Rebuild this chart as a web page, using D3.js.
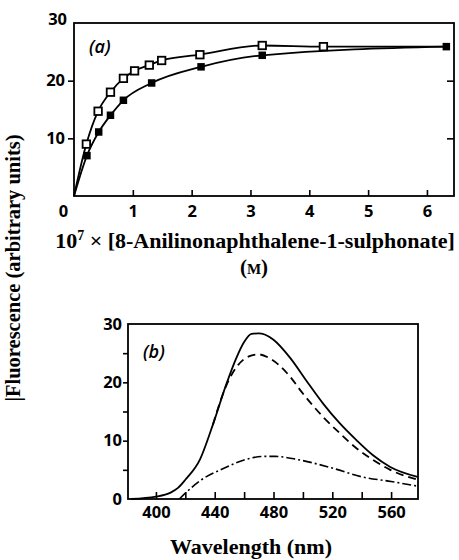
<!DOCTYPE html>
<html>
<head>
<meta charset="utf-8">
<script src="https://cdn.jsdelivr.net/npm/d3@7"></script>
<style>
  body { margin: 0; background: #fff; }
  .tick text { font-family: "Open Sans", sans-serif; font-weight: 700; font-size: 16.5px; fill: #000; }
  .title { font-family: "Liberation Serif", serif; font-weight: 700; fill: #000; }
  .panel { font-family: "Open Sans", sans-serif; font-style: italic; font-weight: 600; font-size: 18px; fill: #000; }
</style>
</head>
<body>
<svg id="fig" width="459" height="560"></svg>
<script>
// panel (a): fluorescence vs ANS concentration
const openX = [0.21, 0.41, 0.62, 0.84, 1.03, 1.28, 1.49, 2.14, 3.2, 4.24];
const openY = [9.0, 14.7, 18.0, 20.4, 21.7, 22.7, 23.5, 24.5, 26.1, 25.9];
const filledX = [0.22, 0.42, 0.62, 0.84, 1.32, 2.16, 3.2, 6.33];
const filledY = [7.0, 11.1, 14.0, 16.6, 19.6, 22.4, 24.4, 25.9];
const xTicksA = [1, 2, 3, 4, 5, 6];
const yTicksA = [10, 20, 30];

// panel (b): emission spectra
const solidNm = [383, 400, 410, 415, 420, 430, 438.7, 447.8, 454.6, 460, 465, 470, 474, 480, 491.6, 502, 513.6, 525, 536.4, 547.7, 559.4, 578];
const solidF  = [0, 0.4, 1.1, 1.9, 3.3, 6.8, 12.7, 19.6, 24.1, 26.9, 28.3, 28.4, 28.2, 27.3, 24.1, 20.4, 16.4, 13, 10.1, 7.5, 5.5, 3.8];
const dashNm = [438.7, 447.8, 456, 462.8, 469.6, 477.5, 491.2, 499, 513.6, 525, 536.4, 547.7, 559.4, 578];
const dashF  = [12.7, 19.4, 23, 24.4, 24.8, 24.1, 21, 18.4, 14.1, 11.3, 8.7, 6.7, 5, 3.3];
const dotNm = [416, 420, 431, 446.6, 460, 474, 481, 495.5, 520, 540, 560, 578];
const dotF  = [0, 1, 3.3, 5.3, 6.7, 7.3, 7.3, 6.8, 5.3, 3.8, 3.0, 2.2];
const xTicksB = [400, 420, 440, 460, 480, 500, 520, 540, 560];
const xLabelsB = [400, 440, 480, 520, 560];
const yTicksB = [0, 5, 10, 15, 20, 25, 30];

const svg = d3.select("#fig");

function styleAxis(g) {
  g.select(".domain").remove();
  g.selectAll(".tick line").attr("stroke", "#000").attr("stroke-width", 1.6);
}

// ---------- panel (a) ----------
const xa = d3.scaleLinear().domain([0, 6.46]).range([74, 454]);
const ya = d3.scaleLinear().domain([0, 30]).range([196, 23]);

svg.append("rect")
  .attr("x", xa(0)).attr("y", ya(30))
  .attr("width", xa(6.46) - xa(0)).attr("height", ya(0) - ya(30))
  .attr("fill", "none").attr("stroke", "#000").attr("stroke-width", 1.8);

svg.append("g")
  .attr("transform", `translate(0,${ya(0)})`)
  .call(d3.axisTop(xa).tickValues(xTicksA).tickSize(6).tickFormat(""))
  .call(styleAxis);
svg.append("g")
  .attr("transform", `translate(0,${ya(0)})`)
  .call(d3.axisBottom(xa).tickValues([0].concat(xTicksA)).tickSize(0).tickPadding(9)
    .tickFormat(d3.format("d")))
  .call(g => g.select(".domain").remove())
  .call(g => g.selectAll(".tick").filter(d => d === 0).select("text").attr("dx", -11));

svg.append("g")
  .attr("transform", `translate(${xa(0)},0)`)
  .call(d3.axisLeft(ya).tickValues([10, 20]).tickSize(6).tickPadding(3))
  .call(styleAxis);
svg.append("g")
  .attr("transform", `translate(${xa(0)},0)`)
  .call(d3.axisLeft(ya).tickValues([30]).tickSize(0).tickPadding(7))
  .call(styleAxis)
  .call(g => g.selectAll("text").attr("dy", "0.1em"));
svg.append("g")
  .attr("transform", `translate(${xa(6.46)},0)`)
  .call(d3.axisLeft(ya).tickValues([10, 20]).tickSize(7).tickFormat(""))
  .call(styleAxis);

const lineA = d3.line().x(d => xa(d[0])).y(d => ya(d[1])).curve(d3.curveMonotoneX);
const openPts = [[0, 0]].concat(openX.map((x, i) => [x, openY[i]]));
const filledPts = [[0, 0]].concat(filledX.map((x, i) => [x, filledY[i]]));
svg.append("path")
  .attr("d", lineA(openPts.concat([[filledX[filledX.length - 1], filledY[filledY.length - 1]]])))
  .attr("fill", "none").attr("stroke", "#000").attr("stroke-width", 1.8);
svg.append("path")
  .attr("d", lineA(filledPts))
  .attr("fill", "none").attr("stroke", "#000").attr("stroke-width", 1.8);

const sq = 7.5;
svg.append("g").selectAll("rect")
  .data(filledX.map((x, i) => [x, filledY[i]]))
  .join("rect")
  .attr("x", d => xa(d[0]) - sq / 2).attr("y", d => ya(d[1]) - sq / 2)
  .attr("width", sq).attr("height", sq)
  .attr("fill", "#000");
svg.append("g").selectAll("rect")
  .data(openX.map((x, i) => [x, openY[i]]))
  .join("rect")
  .attr("x", d => xa(d[0]) - sq / 2).attr("y", d => ya(d[1]) - sq / 2)
  .attr("width", sq).attr("height", sq)
  .attr("fill", "#fff").attr("stroke", "#000").attr("stroke-width", 1.8);

svg.append("text").attr("class", "panel").attr("x", 89).attr("y", 53).text("(a)");

svg.append("text").attr("class", "title")
  .attr("x", 255).attr("y", 248).attr("text-anchor", "middle").style("font-size", "22px")
  .html('10<tspan dy="-8" font-size="14">7</tspan><tspan dy="8"> × [8-Anilinonaphthalene-1-sulphonate]</tspan>');
svg.append("text").attr("class", "title")
  .attr("x", 254).attr("y", 274).attr("text-anchor", "middle").style("font-size", "21px")
  .html('(<tspan font-size="15">M</tspan>)');

// ---------- panel (b) ----------
const xb = d3.scaleLinear().domain([381, 578.3]).range([128, 418]);
const yb = d3.scaleLinear().domain([0, 30]).range([499, 324]);

svg.append("rect")
  .attr("x", xb(381)).attr("y", yb(30))
  .attr("width", xb(578.3) - xb(381)).attr("height", yb(0) - yb(30))
  .attr("fill", "none").attr("stroke", "#000").attr("stroke-width", 1.8);

svg.append("g")
  .attr("transform", `translate(0,${yb(0)})`)
  .call(d3.axisTop(xb).tickValues(xTicksB).tickSize(7).tickFormat(""))
  .call(styleAxis);
svg.append("g")
  .attr("transform", `translate(0,${yb(0)})`)
  .call(d3.axisBottom(xb).tickValues(xLabelsB).tickSize(0).tickPadding(7))
  .call(g => g.select(".domain").remove());

svg.append("g")
  .attr("transform", `translate(${xb(381)},0)`)
  .call(d3.axisLeft(yb).tickValues(yTicksB.filter(d => d > 0 && d < 30)).tickSize(5).tickFormat(""))
  .call(styleAxis);
svg.append("g")
  .attr("transform", `translate(${xb(381)},0)`)
  .call(d3.axisLeft(yb).tickValues(yTicksB.filter(d => d % 10 === 0)).tickSize(0).tickPadding(6))
  .call(styleAxis);

const lineB = d3.line().x(d => xb(d[0])).y(d => yb(d[1])).curve(d3.curveMonotoneX);
svg.append("path")
  .attr("d", lineB(solidNm.map((x, i) => [x, solidF[i]])))
  .attr("fill", "none").attr("stroke", "#000").attr("stroke-width", 1.8);
svg.append("path")
  .attr("d", lineB(dashNm.map((x, i) => [x, dashF[i]])))
  .attr("fill", "none").attr("stroke", "#000").attr("stroke-width", 1.8)
  .attr("stroke-dasharray", "8,5");
svg.append("path")
  .attr("d", lineB(dotNm.map((x, i) => [x, dotF[i]])))
  .attr("fill", "none").attr("stroke", "#000").attr("stroke-width", 1.6)
  .attr("stroke-dasharray", "9,3,2,3");

svg.append("text").attr("class", "panel").attr("x", 143).attr("y", 358).text("(b)");

svg.append("text").attr("class", "title")
  .attr("x", 251).attr("y", 554).attr("text-anchor", "middle").style("font-size", "22px")
  .text("Wavelength (nm)");

// shared y title
svg.append("text").attr("class", "title")
  .attr("transform", "translate(20,268) rotate(-90)")
  .attr("text-anchor", "middle").style("font-size", "20.5px")
  .text("|Fluorescence (arbitrary units)");
</script>
</body>
</html>
